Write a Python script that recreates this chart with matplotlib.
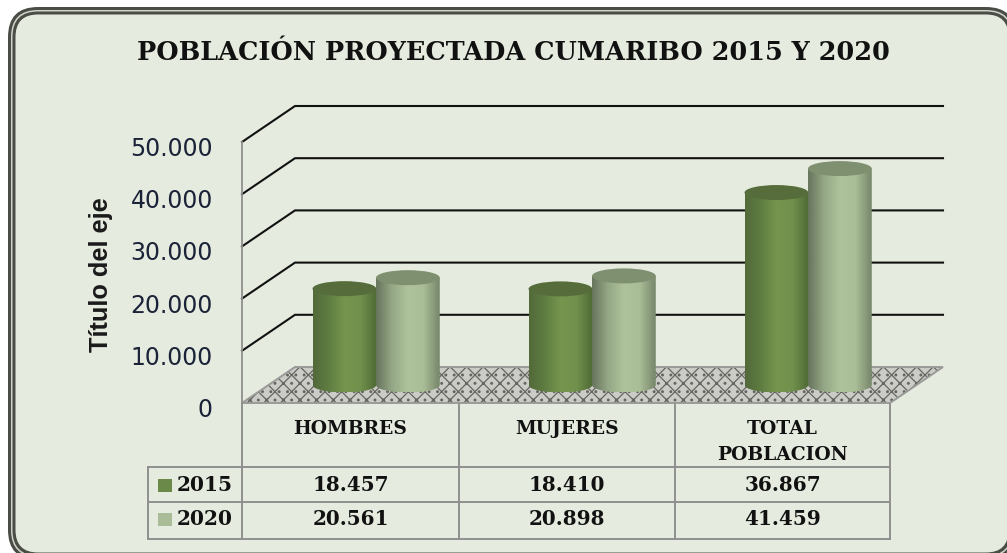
import matplotlib
matplotlib.use('Agg')
import matplotlib.pyplot as plt
import numpy as np
from matplotlib.patches import FancyBboxPatch, Polygon, Ellipse, Rectangle
from matplotlib.path import Path
from matplotlib.colors import LinearSegmentedColormap
from matplotlib.transforms import ScaledTranslation

categories = ['HOMBRES', 'MUJERES', 'TOTAL\nPOBLACION']
years = ['2015', '2020']
values_2015 = [18457, 18410, 36867]
values_2020 = [20561, 20898, 41459]
labels_2015 = ['18.457', '18.410', '36.867']
labels_2020 = ['20.561', '20.898', '41.459']
y_ticks = [0, 10000, 20000, 30000, 40000, 50000]

W, H = 1007, 553
BG = '#e6ebdf'
TXT = '#1b2338'
GRID_GREY = '#8f8f8f'
SERIF = 'DejaVu Serif'

# front wall of the 3d box, in pixels
LEFT, RIGHT, BASE, TOP = 242, 890, 403, 142
DEPTH_X, DEPTH_Y = 53, 36

fig = plt.figure(figsize=(W / 100, H / 100), dpi=100, facecolor='white')

# page layer in pixels: frame and table
bg = fig.add_axes([0, 0, 1, 1])
bg.set_xlim(0, W)
bg.set_ylim(H, 0)
bg.axis('off')

# frame: nested filled boxes make the dark double line, it runs off the canvas right and bottom
fx0, fy0, fx1, fy1 = 8, 7, 1016, 560
for inset, col in [(0, '#4a4d46'), (3, '#cfd3ca'), (4.5, '#4a4d46'), (7.5, BG)]:
    bg.add_patch(FancyBboxPatch((fx0 + inset + 20, fy0 + inset + 20),
                                fx1 - fx0 - 2 * inset - 40, fy1 - fy0 - 2 * inset - 40,
                                boxstyle=f'round,pad=20,rounding_size={30 - inset}',
                                fc=col, ec='none', lw=0))

bg.text(513, 52, 'POBLACIÓN PROYECTADA CUMARIBO 2015 Y 2020', ha='center', va='center',
        family=SERIF, weight='bold', fontsize=18.4, color='#111111')
bg.text(101, 275, 'Título del eje', rotation=90, ha='center', va='center',
        family='Liberation Sans', weight='bold', fontsize=18.3, color='#1a1a1a')

# table
col_x = [242, 459, 675, 890]
row_y = [403, 467, 502, 539]
for x in col_x:
    bg.plot([x, x], [row_y[0], row_y[-1]], color=GRID_GREY, lw=1.4)
bg.plot([148, 148], [row_y[1], row_y[-1]], color=GRID_GREY, lw=1.4)
for y in row_y[1:]:
    bg.plot([148, 890], [y, y], color=GRID_GREY, lw=1.4)

for i, name in enumerate(categories):
    cx = (col_x[i] + col_x[i + 1]) / 2
    bg.text(cx, 429 if i < 2 else 442, name, ha='center', va='center', family=SERIF,
            weight='bold', fontsize=13.5, color='#111111', linespacing=1.5)
    bg.text(cx, 485, labels_2015[i], ha='center', va='center', family=SERIF,
            weight='bold', fontsize=14.4, color='#111111')
    bg.text(cx, 519, labels_2020[i], ha='center', va='center', family=SERIF,
            weight='bold', fontsize=14.4, color='#111111')

for y, year, col in [(485, years[0], '#6b8a4a'), (519, years[1], '#a9bc97')]:
    bg.add_patch(Rectangle((158, y - 6), 14, 13, fc=col, ec='none'))
    bg.text(177, y, year, ha='left', va='center', family=SERIF, weight='bold',
            fontsize=14.5, color='#111111')

# value axes on the front wall
ax = fig.add_axes([LEFT / W, 1 - BASE / H, (RIGHT - LEFT) / W, (BASE - TOP) / H])
ax.patch.set_visible(False)
for s in ['top', 'right', 'bottom']:
    ax.spines[s].set_visible(False)
ax.spines['left'].set_color(GRID_GREY)
ax.spines['left'].set_linewidth(1.3)

y_per_px = 50000 / (BASE - TOP)
x_per_px = 3 / (RIGHT - LEFT)
dx = DEPTH_X * x_per_px
dy = DEPTH_Y * y_per_px

# floor
floor = [(0, 0), (dx, dy), (3 + dx, dy), (3, 0)]
plt.rcParams['hatch.linewidth'] = 0.9
ax.add_patch(Polygon(floor, closed=True, fc='#cbcbc7', ec='#66665f', hatch='xx..', lw=0, clip_on=False, zorder=1))
ax.add_patch(Polygon(floor, closed=True, fc='none', ec='#9a9a9a', lw=1.4, clip_on=False, zorder=1.1))

# gridlines go back along the side wall, then across the back wall
for v in y_ticks[1:]:
    ax.plot([0, dx, 3 + dx], [v, v + dy, v + dy], color='#111111', lw=1.5,
            clip_on=False, solid_joinstyle='miter', zorder=1.5)

cmap_2015 = LinearSegmentedColormap.from_list('c15', ['#52693a', '#5f7e42', '#76964f', '#70904c', '#4f6a35'])
cmap_2020 = LinearSegmentedColormap.from_list('c20', ['#66745c', '#95a886', '#aec29b', '#a9bd96', '#76866a'])
tops = ['#566d3b', '#7f9070']
offsets = [0.474, 0.768]
width = 0.295
base_v = 18 * y_per_px
ry = 7.5 * y_per_px
ramp = np.linspace(0, 1, 128).reshape(1, -1)
t = np.linspace(np.pi, 2 * np.pi, 40)

for j, (vals, cmap) in enumerate([(values_2015, cmap_2015), (values_2020, cmap_2020)]):
    for i, v in enumerate(vals):
        cx = i + offsets[j]
        x0, x1 = cx - width / 2, cx + width / 2
        top_v = base_v + v
        im = ax.imshow(ramp, cmap=cmap, extent=[x0, x1, base_v - ry, top_v], aspect='auto',
                       zorder=2 + j, clip_on=True)
        arc_x = cx + width / 2 * np.cos(t)
        arc_y = base_v + ry * np.sin(t)
        verts = np.column_stack([np.r_[arc_x, x1, x0, x0], np.r_[arc_y, top_v, top_v, arc_y[0]]])
        codes = [Path.MOVETO] + [Path.LINETO] * (len(verts) - 2) + [Path.CLOSEPOLY]
        im.set_clip_path(Path(verts, codes), ax.transData)
        ax.add_patch(Ellipse((cx, top_v), width, 2 * ry, fc=tops[j], ec='none', zorder=2 + j + 0.1, clip_on=False))

ax.set_xlim(0, 3)
ax.set_ylim(0, 50000)
ax.set_xticks([])
ax.set_yticks(y_ticks)
ax.set_yticklabels([f'{v:,}'.replace(',', '.') for v in y_ticks], fontsize=17, color=TXT)
ax.tick_params(axis='y', length=0, pad=21)
for lab in ax.get_yticklabels():
    lab.set_transform(lab.get_transform() + ScaledTranslation(0, -3.2 / 72, fig.dpi_scale_trans))

fig.savefig('out.png', dpi=100, facecolor='white')
